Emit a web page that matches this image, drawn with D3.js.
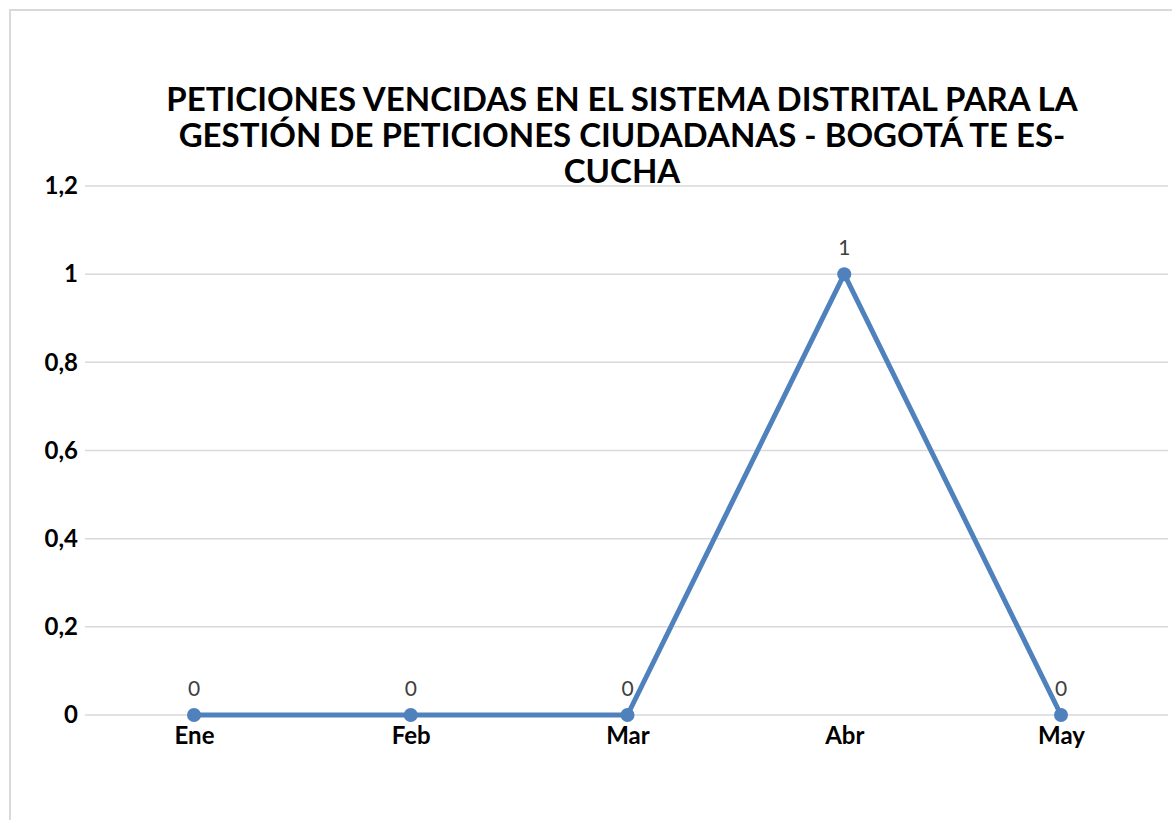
<!DOCTYPE html>
<html>
<head>
<meta charset="utf-8">
<script src="https://cdn.jsdelivr.net/npm/d3@7"></script>
<style>
  body { margin: 0; background: #fff; }
  text { font-family: Lato, "Open Sans", sans-serif; }
</style>
</head>
<body>
<script>
var months = ["Ene", "Feb", "Mar", "Abr", "May"];
var values = [0, 0, 0, 1, 0];
var yTicks = [0, 0.2, 0.4, 0.6, 0.8, 1, 1.2];
var titleLines = [
    "PETICIONES VENCIDAS EN EL SISTEMA DISTRITAL PARA LA",
    "GESTIÓN DE PETICIONES CIUDADANAS - BOGOTÁ TE ES-",
    "CUCHA"
];

var w = 1172, h = 820;

var svg = d3.select("body")
    .append("svg")
    .attr("width", w)
    .attr("height", h);

//chart frame
svg.append("rect")
    .attr("x", 10)
    .attr("y", 10)
    .attr("width", 1180)
    .attr("height", 830)
    .style("fill", "#fff")
    .style("stroke", "#d9d9d9")
    .style("stroke-width", 2);

//scales
var x = d3.scalePoint()
    .domain(months)
    .range([194, 1061]);

var y = d3.scaleLinear()
    .domain([0, 1.2])
    .range([715, 186]);

var fmt = function(d){
    return String(d3.format("~g")(d)).replace(".", ",");
};

//gridlines
svg.selectAll(".grid")
    .data(yTicks)
    .enter()
    .append("line")
    .attr("class", "grid")
    .attr("x1", 85)
    .attr("x2", 1168)
    .attr("y1", function(d){ return y(d); })
    .attr("y2", function(d){ return y(d); })
    .style("stroke", "#d9d9d9")
    .style("stroke-width", 1.5);

//y axis labels
var yAxis = d3.axisLeft(y)
    .tickValues(yTicks)
    .tickSize(0)
    .tickPadding(0)
    .tickFormat(fmt);

var gy = svg.append("g")
    .attr("transform", "translate(78,0)")
    .call(yAxis);
gy.select(".domain").remove();
gy.selectAll("text")
    .style("font-family", "Lato, sans-serif")
    .style("font-size", "24px")
    .style("font-weight", "bold")
    .style("fill", "#000");

//x axis labels
var xAxis = d3.axisBottom(x)
    .tickSize(0)
    .tickPadding(12);

var gx = svg.append("g")
    .attr("transform", "translate(0," + y(0) + ")")
    .call(xAxis);
gx.select(".domain").remove();
gx.selectAll("text")
    .style("font-family", "Lato, sans-serif")
    .style("font-size", "24px")
    .style("font-weight", "bold")
    .style("fill", "#000");

//line
var line = d3.line()
    .x(function(d, i){ return x(months[i]); })
    .y(function(d){ return y(d); });

svg.append("path")
    .datum(values)
    .attr("d", line)
    .style("fill", "none")
    .style("stroke", "#4f81bd")
    .style("stroke-width", 5)
    .style("stroke-linejoin", "round");

//markers
svg.selectAll(".dot")
    .data(values)
    .enter()
    .append("circle")
    .attr("class", "dot")
    .attr("cx", function(d, i){ return x(months[i]); })
    .attr("cy", function(d){ return y(d); })
    .attr("r", 7)
    .style("fill", "#4f81bd");

//data labels
svg.selectAll(".lbl")
    .data(values)
    .enter()
    .append("text")
    .attr("class", "lbl")
    .attr("text-anchor", "middle")
    .attr("x", function(d, i){ return x(months[i]); })
    .attr("y", function(d){ return y(d) - 19; })
    .style("font-size", "21px")
    .style("fill", "#404040")
    .text(function(d){ return fmt(d); });

//title
svg.selectAll(".title")
    .data(titleLines)
    .enter()
    .append("text")
    .attr("class", "title")
    .attr("text-anchor", "middle")
    .attr("x", 622)
    .attr("y", function(d, i){ return 111 + i * 36; })
    .style("font-size", "33px")
    .style("font-weight", "bold")
    .style("fill", "#000")
    .text(function(d){ return d; });
</script>
</body>
</html>
